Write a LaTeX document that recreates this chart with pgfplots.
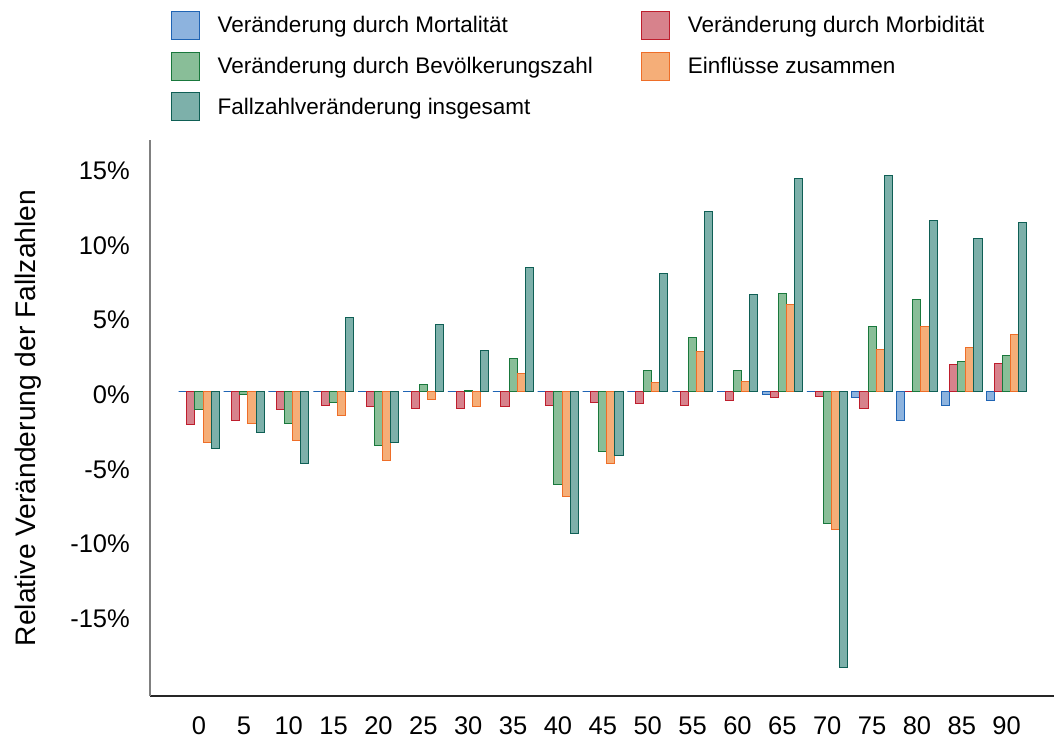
\documentclass[border=0pt]{standalone}
\usepackage{fontspec}
\setmainfont{Liberation Sans}
\usepackage{pgfplots}
\pgfplotsset{compat=1.18}
\usepackage{pgfplotstable}

\definecolor{mortF}{HTML}{8DB3DE}
\definecolor{mortD}{HTML}{1F64B4}
\definecolor{morbF}{HTML}{D7828C}
\definecolor{morbD}{HTML}{BE1E2D}
\definecolor{popF}{HTML}{89BE98}
\definecolor{popD}{HTML}{19783C}
\definecolor{combF}{HTML}{F5AE78}
\definecolor{combD}{HTML}{EE6E28}
\definecolor{totF}{HTML}{7DB0AA}
\definecolor{totD}{HTML}{0F5F55}

\pgfplotstableread{
x  mort  morb  pop   comb  total
0  0     -2.2  -1.2  -3.4  -3.8
1  0     -1.9  -0.2  -2.1  -2.7
2  0     -1.2  -2.1  -3.3  -4.8
3  0     -0.9  -0.7  -1.6   5.0
4  0     -1.0  -3.6  -4.6  -3.4
5  0     -1.1   0.5  -0.5   4.5
6  0     -1.1   0.1  -1.0   2.75
7  0     -1.0   2.2   1.2   8.3
8  0     -0.9  -6.2  -7.0  -9.5
9  0     -0.7  -4.0  -4.8  -4.3
10 0     -0.8   1.4   0.6   7.9
11 0     -0.9   3.6   2.7  12.1
12 0     -0.6   1.4   0.7   6.5
13 -0.17 -0.37  6.55  5.87 14.3
14 0     -0.3  -8.85 -9.2 -18.5
15 -0.4  -1.15  4.4   2.85 14.45
16 -1.9   0     6.2   4.35 11.45
17 -0.95  1.8   2.05  2.95 10.25
18 -0.6   1.9   2.45  3.8  11.35
}\data

\begin{document}
\begin{tikzpicture}
\useasboundingbox (0,0) rectangle (1054pt,738pt);
\begin{axis}[
  at={(150pt,42pt)}, anchor=south west,
  scale only axis, width=904pt, height=556pt,
  xmin=-1.092, xmax=19.055, ymin=-20.38, ymax=16.86,
  axis x line*=bottom, axis y line*=left,
  x axis line style={draw=black!85, line width=1.2pt, -},
  y axis line style={draw=black!50, line width=1.2pt, -},
  ybar=0pt, bar width=8.1pt,
  xtick={0,...,18},
  xticklabels={0,5,10,15,20,25,30,35,40,45,50,55,60,65,70,75,80,85,90},
  ytick={-15,-10,-5,0,5,10,15},
  yticklabels={-15\%,-10\%,-5\%,0\%,5\%,10\%,15\%},
  major tick length=0pt, tick style={draw=none},
  tick label style={font=\fontsize{25.5}{30}\selectfont},
  xticklabel style={inner sep=0pt, anchor=north, yshift=-20.7pt},
  yticklabel style={inner sep=0pt, anchor=east, xshift=-20pt, yshift=-3pt},
  every axis y label/.style={at={(axis description cs:-0.1272,0.5)}, rotate=90, anchor=base},
  ylabel={\fontsize{28.2}{32}\selectfont Relative Veränderung der Fallzahlen},
  legend columns=2,
  legend style={draw=none, fill=none, at={(0.02323,1.2320)}, anchor=north west,
    inner sep=0pt, outer sep=0pt, row sep=11.6pt,
    font=\fontsize{22.5}{26}\selectfont, nodes={inner sep=0pt}, cells={anchor=west},
    /tikz/every odd column/.append style={column sep=17.7pt},
    /tikz/every even column/.append style={column sep=48.3pt}},
  legend image code/.code={\draw[#1,line width=1pt] (0pt,-14pt) rectangle (28pt,14pt);},
]
\addplot[fill=mortF, draw=mortD, line width=1pt] table[x=x,y=mort]{\data};
\addlegendentry{Veränderung durch Mortalität}
\addplot[fill=morbF, draw=morbD, line width=1pt] table[x=x,y=morb]{\data};
\addlegendentry{Veränderung durch Morbidität}
\addplot[fill=popF, draw=popD, line width=1pt] table[x=x,y=pop]{\data};
\addlegendentry{Veränderung durch Bevölkerungszahl}
\addplot[fill=combF, draw=combD, line width=1pt] table[x=x,y=comb]{\data};
\addlegendentry{Einflüsse zusammen}
\addplot[fill=totF, draw=totD, line width=1pt] table[x=x,y=total]{\data};
\addlegendentry{Fallzahlveränderung insgesamt}
\end{axis}
\end{tikzpicture}
\end{document}
